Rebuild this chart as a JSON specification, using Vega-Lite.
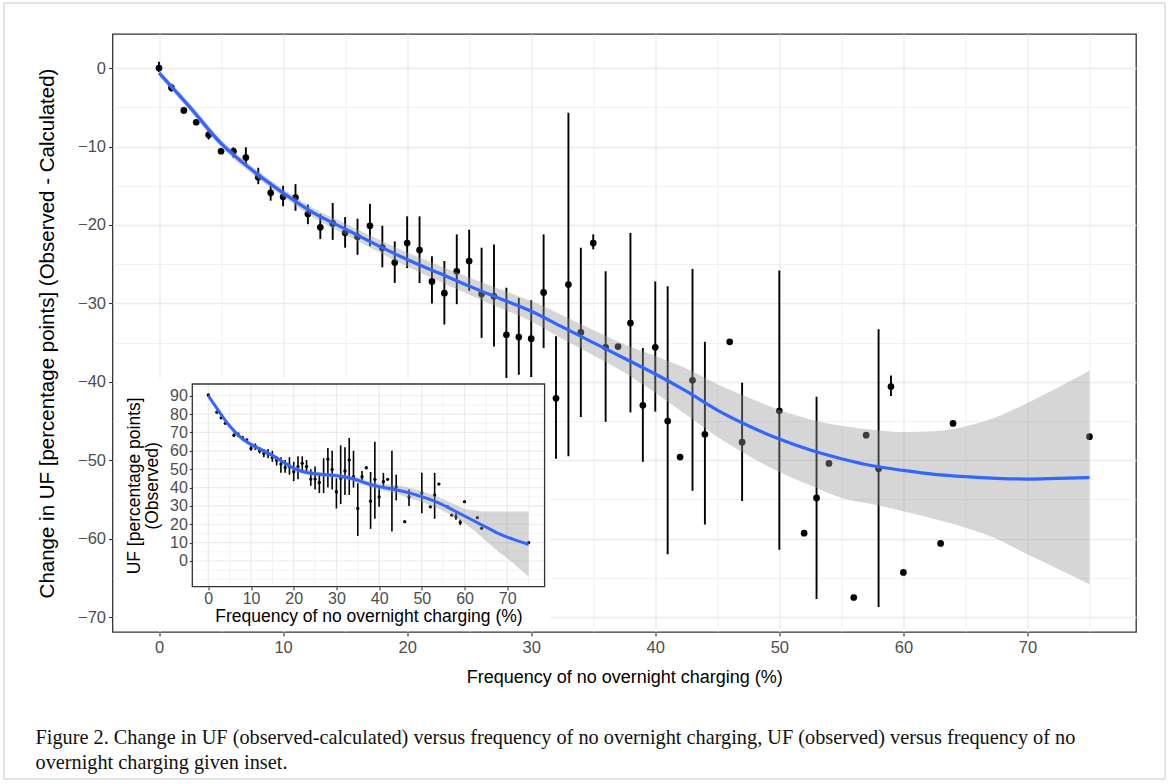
{
  "$schema": "https://vega.github.io/schema/vega-lite/v6.json",
  "width": 1023.5,
  "height": 598,
  "autosize": "none",
  "padding": {"left": 112.5, "top": 34, "right": 35, "bottom": 152},
  "background": "white",
  "title": {
    "text": ["Figure 2. Change in UF (observed-calculated) versus frequency of no overnight charging, UF (observed) versus frequency of no", "overnight charging given inset."],
    "orient": "bottom", "anchor": "start", "frame": "group", "dx": -77, "offset": -51,
    "font": "Liberation Serif", "fontSize": 20.3, "fontWeight": "normal", "color": "#111111", "lineHeight": 25
  },
  "config": {
    "view": {"stroke": "#333333", "strokeWidth": 1.3},
    "axis": {"labelFont": "Liberation Sans", "titleFont": "Liberation Sans", "labelColor": "#4d4d4d", "titleColor": "#000000", "tickColor": "#333333", "domain": false, "titleFontWeight": "normal", "labelOverlap": false, "labelFlush": false}
  },
  "datasets": {
    "main": [
      {"x": 0, "y": 0.0, "lo": -0.5, "hi": 0.8},
      {"x": 1, "y": -2.5, "lo": -3.0, "hi": -2.0},
      {"x": 2, "y": -5.4, "lo": -5.8, "hi": -5.0},
      {"x": 3, "y": -6.9, "lo": null, "hi": null},
      {"x": 4, "y": -8.5, "lo": -9.1, "hi": -7.7},
      {"x": 5, "y": -10.6, "lo": null, "hi": null},
      {"x": 6, "y": -10.6, "lo": -11.4, "hi": -10.1},
      {"x": 7, "y": -11.4, "lo": -12.5, "hi": -10.1},
      {"x": 8, "y": -13.9, "lo": -14.8, "hi": -12.7},
      {"x": 9, "y": -15.9, "lo": -16.9, "hi": -14.6},
      {"x": 10, "y": -16.4, "lo": -17.6, "hi": -15.0},
      {"x": 11, "y": -16.5, "lo": -18.2, "hi": -14.8},
      {"x": 12, "y": -18.6, "lo": -19.9, "hi": -17.4},
      {"x": 13, "y": -20.3, "lo": -21.8, "hi": -18.6},
      {"x": 14, "y": -19.8, "lo": -21.9, "hi": -17.2},
      {"x": 15, "y": -21.0, "lo": -22.9, "hi": -19.0},
      {"x": 16, "y": -21.5, "lo": -23.8, "hi": -19.2},
      {"x": 17, "y": -20.1, "lo": -22.7, "hi": -17.3},
      {"x": 18, "y": -22.9, "lo": -25.4, "hi": -20.1},
      {"x": 19, "y": -24.8, "lo": -27.4, "hi": -22.1},
      {"x": 20, "y": -22.3, "lo": -25.5, "hi": -18.9},
      {"x": 21, "y": -23.2, "lo": -27.4, "hi": -18.9},
      {"x": 22, "y": -27.2, "lo": -30.0, "hi": -24.0},
      {"x": 23, "y": -28.7, "lo": -32.7, "hi": -24.6},
      {"x": 24, "y": -25.9, "lo": -30.1, "hi": -21.2},
      {"x": 25, "y": -24.6, "lo": -28.4, "hi": -20.6},
      {"x": 26, "y": -28.8, "lo": -34.4, "hi": -22.9},
      {"x": 27, "y": -29.1, "lo": -35.5, "hi": -22.5},
      {"x": 28, "y": -34.0, "lo": -39.7, "hi": -28.0},
      {"x": 29, "y": -34.3, "lo": -39.1, "hi": -29.3},
      {"x": 30, "y": -34.5, "lo": -39.4, "hi": -29.6},
      {"x": 31, "y": -28.6, "lo": -35.7, "hi": -21.2},
      {"x": 32, "y": -42.1, "lo": -49.8, "hi": -34.2},
      {"x": 33, "y": -27.6, "lo": -49.5, "hi": -5.7},
      {"x": 34, "y": -33.7, "lo": -44.5, "hi": -22.9},
      {"x": 35, "y": -22.3, "lo": -23.1, "hi": -21.2},
      {"x": 36, "y": -35.6, "lo": -45.1, "hi": -25.9},
      {"x": 37, "y": -35.5, "lo": null, "hi": null},
      {"x": 38, "y": -32.5, "lo": -43.9, "hi": -21.0},
      {"x": 39, "y": -43.0, "lo": -50.2, "hi": -35.7},
      {"x": 40, "y": -35.6, "lo": -43.8, "hi": -27.2},
      {"x": 41, "y": -45.0, "lo": -62.0, "hi": -27.8},
      {"x": 42, "y": -49.6, "lo": null, "hi": null},
      {"x": 43, "y": -39.8, "lo": -53.9, "hi": -25.6},
      {"x": 44, "y": -46.7, "lo": -58.2, "hi": -34.9},
      {"x": 46, "y": -34.9, "lo": null, "hi": null},
      {"x": 47, "y": -47.7, "lo": -55.2, "hi": -40.1},
      {"x": 50, "y": -43.7, "lo": -61.4, "hi": -25.8},
      {"x": 52, "y": -59.3, "lo": null, "hi": null},
      {"x": 53, "y": -54.8, "lo": -67.7, "hi": -41.9},
      {"x": 54, "y": -50.4, "lo": null, "hi": null},
      {"x": 56, "y": -67.5, "lo": null, "hi": null},
      {"x": 57, "y": -46.8, "lo": null, "hi": null},
      {"x": 58, "y": -51.1, "lo": -68.7, "hi": -33.3},
      {"x": 59, "y": -40.6, "lo": -41.8, "hi": -39.2},
      {"x": 60, "y": -64.3, "lo": null, "hi": null},
      {"x": 63, "y": -60.6, "lo": null, "hi": null},
      {"x": 64, "y": -45.3, "lo": null, "hi": null},
      {"x": 75, "y": -47.0, "lo": null, "hi": null}
    ],
    "mainfit": [
      {"x": 0, "fit": -0.6, "lo": -1.0, "hi": -0.2},
      {"x": 2.5, "fit": -5.0, "lo": -5.5, "hi": -4.5},
      {"x": 5, "fit": -9.6, "lo": -10.1, "hi": -9.1},
      {"x": 7.5, "fit": -13.0, "lo": -13.5, "hi": -12.5},
      {"x": 10, "fit": -15.9, "lo": -16.4, "hi": -15.4},
      {"x": 12.5, "fit": -18.5, "lo": -19.1, "hi": -17.9},
      {"x": 15, "fit": -20.5, "lo": -21.2, "hi": -19.8},
      {"x": 17.5, "fit": -22.5, "lo": -23.3, "hi": -21.7},
      {"x": 20, "fit": -24.4, "lo": -25.3, "hi": -23.5},
      {"x": 22.5, "fit": -26.1, "lo": -27.1, "hi": -25.1},
      {"x": 25, "fit": -27.8, "lo": -28.9, "hi": -26.7},
      {"x": 27.5, "fit": -29.4, "lo": -30.6, "hi": -28.2},
      {"x": 30, "fit": -31.0, "lo": -32.3, "hi": -29.7},
      {"x": 32.5, "fit": -33.0, "lo": -34.5, "hi": -31.5},
      {"x": 35, "fit": -35.0, "lo": -36.6, "hi": -33.4},
      {"x": 37.5, "fit": -37.0, "lo": -38.8, "hi": -35.2},
      {"x": 40, "fit": -39.0, "lo": -41.4, "hi": -36.7},
      {"x": 42.5, "fit": -41.2, "lo": -44.2, "hi": -38.3},
      {"x": 45, "fit": -43.6, "lo": -47.0, "hi": -40.3},
      {"x": 47.5, "fit": -45.6, "lo": -49.4, "hi": -42.0},
      {"x": 50, "fit": -47.3, "lo": -51.5, "hi": -43.6},
      {"x": 52.5, "fit": -48.7, "lo": -53.2, "hi": -44.8},
      {"x": 55, "fit": -49.8, "lo": -54.8, "hi": -45.6},
      {"x": 57.5, "fit": -50.7, "lo": -55.6, "hi": -46.1},
      {"x": 60, "fit": -51.3, "lo": -56.5, "hi": -46.4},
      {"x": 62.5, "fit": -51.8, "lo": -57.5, "hi": -46.3},
      {"x": 65, "fit": -52.1, "lo": -58.6, "hi": -45.7},
      {"x": 67.5, "fit": -52.3, "lo": -60.0, "hi": -44.5},
      {"x": 70, "fit": -52.4, "lo": -62.0, "hi": -42.7},
      {"x": 72.5, "fit": -52.3, "lo": -63.9, "hi": -40.7},
      {"x": 75, "fit": -52.2, "lo": -65.8, "hi": -38.6}
    ],
    "inset": [
      {"x": 0, "y": 90.4, "lo": null, "hi": null},
      {"x": 2, "y": 81.0, "lo": null, "hi": null},
      {"x": 3, "y": 78.0, "lo": null, "hi": null},
      {"x": 4, "y": 75.0, "lo": null, "hi": null},
      {"x": 6, "y": 68.5, "lo": 67.5, "hi": 69.5},
      {"x": 7, "y": 69.0, "lo": 67.5, "hi": 70.0},
      {"x": 8, "y": 67.3, "lo": null, "hi": null},
      {"x": 9, "y": 66.0, "lo": null, "hi": null},
      {"x": 10, "y": 61.3, "lo": 60.0, "hi": 64.0},
      {"x": 11, "y": 62.6, "lo": 60.5, "hi": 64.0},
      {"x": 12, "y": 60.1, "lo": 58.5, "hi": 62.0},
      {"x": 13, "y": 58.6, "lo": 56.5, "hi": 61.0},
      {"x": 14, "y": 58.3, "lo": 56.0, "hi": 61.0},
      {"x": 15, "y": 56.4, "lo": 54.0, "hi": 60.0},
      {"x": 16, "y": 54.9, "lo": 52.0, "hi": 57.0},
      {"x": 17, "y": 52.8, "lo": 48.0, "hi": 56.5},
      {"x": 18, "y": 50.9, "lo": 48.0, "hi": 55.0},
      {"x": 19, "y": 51.4, "lo": 47.0, "hi": 56.5},
      {"x": 20, "y": 48.6, "lo": 43.5, "hi": 54.0},
      {"x": 21, "y": 51.4, "lo": 44.5, "hi": 57.0},
      {"x": 22, "y": 53.2, "lo": 49.5, "hi": 57.0},
      {"x": 23, "y": 51.4, "lo": 47.5, "hi": 55.0},
      {"x": 24, "y": 44.6, "lo": 41.0, "hi": 50.0},
      {"x": 25, "y": 44.6, "lo": 39.0, "hi": 51.5},
      {"x": 26, "y": 42.8, "lo": 37.0, "hi": 48.0},
      {"x": 27, "y": 47.0, "lo": 37.0, "hi": 56.0},
      {"x": 28, "y": 55.4, "lo": 40.0, "hi": 61.5},
      {"x": 29, "y": 49.9, "lo": 39.0, "hi": 60.0},
      {"x": 30, "y": 37.7, "lo": 28.6, "hi": 45.0},
      {"x": 31, "y": 45.0, "lo": 31.0, "hi": 63.0},
      {"x": 32, "y": 49.0, "lo": 36.0, "hi": 62.0},
      {"x": 33, "y": 55.0, "lo": 36.0, "hi": 67.0},
      {"x": 34, "y": 45.9, "lo": 40.0, "hi": 60.0},
      {"x": 35, "y": 28.6, "lo": 13.6, "hi": 42.4},
      {"x": 36, "y": 45.9, "lo": 44.0, "hi": 49.0},
      {"x": 37, "y": 50.8, "lo": null, "hi": null},
      {"x": 38, "y": 32.6, "lo": 17.5, "hi": 48.5},
      {"x": 39, "y": 44.5, "lo": 23.0, "hi": 65.0},
      {"x": 40, "y": 34.9, "lo": 29.5, "hi": 40.5},
      {"x": 41, "y": 43.2, "lo": 40.5, "hi": 48.0},
      {"x": 42, "y": 44.5, "lo": null, "hi": null},
      {"x": 43, "y": 40.0, "lo": 16.0, "hi": 60.0},
      {"x": 44, "y": 40.4, "lo": 33.0, "hi": 47.0},
      {"x": 46, "y": 21.4, "lo": null, "hi": null},
      {"x": 47, "y": 34.9, "lo": 30.0, "hi": 39.0},
      {"x": 50, "y": 37.1, "lo": 26.0, "hi": 48.0},
      {"x": 52, "y": 29.5, "lo": null, "hi": null},
      {"x": 53, "y": 35.9, "lo": 23.0, "hi": 48.0},
      {"x": 54, "y": 41.9, "lo": null, "hi": null},
      {"x": 56, "y": 29.6, "lo": null, "hi": null},
      {"x": 57, "y": 25.0, "lo": null, "hi": null},
      {"x": 58, "y": 24.1, "lo": 22.5, "hi": 26.0},
      {"x": 59, "y": 21.0, "lo": 19.5, "hi": 22.5},
      {"x": 60, "y": 32.3, "lo": null, "hi": null},
      {"x": 63, "y": 23.6, "lo": null, "hi": null},
      {"x": 64, "y": 17.8, "lo": null, "hi": null},
      {"x": 75, "y": 10.0, "lo": null, "hi": null}
    ],
    "insetfit": [
      {"x": 0, "fit": 90.0, "lo": 88.8, "hi": 91.2},
      {"x": 2.5, "fit": 81.5, "lo": 80.3, "hi": 82.7},
      {"x": 5, "fit": 73.5, "lo": 72.3, "hi": 74.7},
      {"x": 7.5, "fit": 67.5, "lo": 66.3, "hi": 68.7},
      {"x": 10, "fit": 63.5, "lo": 62.3, "hi": 64.7},
      {"x": 12.5, "fit": 60.5, "lo": 59.3, "hi": 61.7},
      {"x": 15, "fit": 57.5, "lo": 56.3, "hi": 58.7},
      {"x": 17.5, "fit": 54.0, "lo": 52.8, "hi": 55.2},
      {"x": 20, "fit": 50.5, "lo": 49.3, "hi": 51.7},
      {"x": 22.5, "fit": 48.5, "lo": 47.3, "hi": 49.7},
      {"x": 25, "fit": 47.5, "lo": 46.3, "hi": 48.7},
      {"x": 27.5, "fit": 47.0, "lo": 45.8, "hi": 48.2},
      {"x": 30, "fit": 46.5, "lo": 45.2, "hi": 47.8},
      {"x": 32.5, "fit": 45.5, "lo": 44.1, "hi": 46.9},
      {"x": 35, "fit": 44.0, "lo": 42.5, "hi": 45.5},
      {"x": 37.5, "fit": 42.0, "lo": 40.4, "hi": 43.6},
      {"x": 40, "fit": 40.5, "lo": 38.7, "hi": 42.3},
      {"x": 42.5, "fit": 39.5, "lo": 37.4, "hi": 41.6},
      {"x": 45, "fit": 38.3, "lo": 35.8, "hi": 40.8},
      {"x": 47.5, "fit": 36.8, "lo": 34.0, "hi": 39.6},
      {"x": 50, "fit": 35.0, "lo": 32.0, "hi": 38.0},
      {"x": 52.5, "fit": 33.0, "lo": 29.9, "hi": 36.1},
      {"x": 55, "fit": 30.5, "lo": 27.2, "hi": 33.8},
      {"x": 57.5, "fit": 27.5, "lo": 24.0, "hi": 31.0},
      {"x": 60, "fit": 24.5, "lo": 20.5, "hi": 28.5},
      {"x": 62.5, "fit": 21.5, "lo": 16.0, "hi": 27.5},
      {"x": 65, "fit": 18.5, "lo": 11.0, "hi": 27.0},
      {"x": 67.5, "fit": 15.5, "lo": 6.0, "hi": 27.0},
      {"x": 70, "fit": 13.0, "lo": 1.5, "hi": 27.0},
      {"x": 72.5, "fit": 11.0, "lo": -3.5, "hi": 27.0},
      {"x": 75, "fit": 9.0, "lo": -8.5, "hi": 27.0}
    ],
    "igx": [{"g": 0}, {"g": 5}, {"g": 10}, {"g": 15}, {"g": 20}, {"g": 25}, {"g": 30}, {"g": 35}, {"g": 40}, {"g": 45}, {"g": 50}, {"g": 55}, {"g": 60}, {"g": 65}, {"g": 70}, {"g": 75}],
    "igy": [{"g": -10}, {"g": -5}, {"g": 0}, {"g": 5}, {"g": 10}, {"g": 15}, {"g": 20}, {"g": 25}, {"g": 30}, {"g": 35}, {"g": 40}, {"g": 45}, {"g": 50}, {"g": 55}, {"g": 60}, {"g": 65}, {"g": 70}, {"g": 75}, {"g": 80}, {"g": 85}, {"g": 90}, {"g": 95}]
  },
  "layer": [
    {
      "data": {"name": "main"},
      "transform": [{"filter": "datum.lo != null"}],
      "mark": {"type": "rule", "color": "#000000", "strokeWidth": 1.9},
      "encoding": {
        "x": {"field": "x", "type": "quantitative", "scale": {"domain": [-3.75, 78.75], "nice": false, "zero": false},
          "axis": {"orient": "bottom", "values": [0, 5, 10, 15, 20, 25, 30, 35, 40, 45, 50, 55, 60, 65, 70, 75],
            "labelExpr": "datum.value % 10 === 0 ? datum.label : ''",
            "grid": true, "gridColor": "#ebebeb",
            "gridWidth": {"condition": {"test": "datum.value % 10 === 0", "value": 1.3}, "value": 0.7},
            "tickOpacity": {"condition": {"test": "datum.value % 10 === 0", "value": 1}, "value": 0},
            "tickSize": 4, "tickWidth": 1.1, "labelFontSize": 16.5, "labelPadding": 3,
            "title": "Frequency of no overnight charging (%)", "titleFontSize": 18, "titlePadding": 13}},
        "y": {"field": "lo", "type": "quantitative", "scale": {"domain": [-71.9, 4.35], "nice": false, "zero": false},
          "axis": {"orient": "left", "values": [-70, -65, -60, -55, -50, -45, -40, -35, -30, -25, -20, -15, -10, -5, 0],
            "labelExpr": "datum.value % 10 === 0 ? datum.label : ''",
            "grid": true, "gridColor": "#ebebeb",
            "gridWidth": {"condition": {"test": "datum.value % 10 === 0", "value": 1.3}, "value": 0.7},
            "tickOpacity": {"condition": {"test": "datum.value % 10 === 0", "value": 1}, "value": 0},
            "tickSize": 4, "tickWidth": 1.1, "labelFontSize": 16.5, "labelPadding": 3,
            "title": "Change in UF [percentage points] (Observed - Calculated)", "titleFontSize": 20.5, "titlePadding": 20}},
        "y2": {"field": "hi"}
      }
    },
    {
      "data": {"values": [{}]},
      "mark": {"type": "rect", "filled": false, "stroke": "#c8c8c8", "strokeWidth": 1},
      "encoding": {
        "x": {"datum": -12.5, "type": "quantitative", "scale": {"domain": [-3.75, 78.75], "nice": false, "zero": false}, "axis": null},
        "x2": {"datum": 81.09},
        "y": {"datum": -90.64, "type": "quantitative", "scale": {"domain": [-71.9, 4.35], "nice": false, "zero": false}, "axis": null},
        "y2": {"datum": 8.3}
      }
    },
    {
      "data": {"name": "main"},
      "mark": {"type": "circle", "color": "#000000", "opacity": 1, "size": 45},
      "encoding": {
        "x": {"field": "x", "type": "quantitative", "scale": {"domain": [-3.75, 78.75], "nice": false, "zero": false}, "axis": null},
        "y": {"field": "y", "type": "quantitative", "scale": {"domain": [-71.9, 4.35], "nice": false, "zero": false}, "axis": null}
      }
    },
    {
      "data": {"name": "mainfit"},
      "mark": {"type": "area", "color": "#999999", "opacity": 0.4, "interpolate": "monotone"},
      "encoding": {
        "x": {"field": "x", "type": "quantitative", "scale": {"domain": [-3.75, 78.75], "nice": false, "zero": false}, "axis": null},
        "y": {"field": "lo", "type": "quantitative", "scale": {"domain": [-71.9, 4.35], "nice": false, "zero": false}, "axis": null},
        "y2": {"field": "hi"}
      }
    },
    {
      "data": {"name": "mainfit"},
      "mark": {"type": "line", "color": "#3366ff", "strokeWidth": 3.2, "interpolate": "monotone"},
      "encoding": {
        "x": {"field": "x", "type": "quantitative", "scale": {"domain": [-3.75, 78.75], "nice": false, "zero": false}, "axis": null},
        "y": {"field": "fit", "type": "quantitative", "scale": {"domain": [-71.9, 4.35], "nice": false, "zero": false}, "axis": null}
      }
    },
    {
      "data": {"values": [{}]},
      "mark": {"type": "rect", "fill": "white", "stroke": null},
      "encoding": {
        "x": {"datum": -21, "type": "quantitative", "scale": {"domain": [-3.75, 78.75], "range": [79.8, 432.1], "nice": false, "zero": false},
          "axis": {"orient": "bottom", "offset": -45.3, "zindex": 1, "grid": false, "values": [0, 10, 20, 30, 40, 50, 60, 70],
            "tickSize": 3, "tickWidth": 1.1, "labelFontSize": 16, "labelPadding": 1,
            "title": "Frequency of no overnight charging (%)", "titleFontSize": 17.5, "titlePadding": 1}},
        "x2": {"datum": 80.0},
        "y": {"datum": -37, "type": "quantitative", "scale": {"domain": [-14, 96.4], "range": [552.7, 350], "nice": false, "zero": false},
          "axis": {"orient": "left", "offset": -79.8, "zindex": 1, "grid": false, "values": [0, 10, 20, 30, 40, 50, 60, 70, 80, 90],
            "tickSize": 3, "tickWidth": 1.1, "labelFontSize": 16, "labelPadding": 2,
            "title": ["UF [percentage points]", "(Observed)"], "titleFontSize": 17.5, "titlePadding": 8, "titleLineHeight": 18}},
        "y2": {"datum": 99.6}
      }
    },
    {
      "data": {"name": "igx"},
      "mark": {"type": "rule", "color": "#ebebeb"},
      "encoding": {
        "x": {"field": "g", "type": "quantitative", "scale": {"domain": [-3.75, 78.75], "range": [79.8, 432.1], "nice": false, "zero": false}, "axis": null},
        "y": {"datum": -14, "type": "quantitative", "scale": {"domain": [-14, 96.4], "range": [552.7, 350], "nice": false, "zero": false}, "axis": null},
        "y2": {"datum": 96.4},
        "strokeWidth": {"condition": {"test": "datum.g % 10 === 0", "value": 1.2}, "value": 0.6}
      }
    },
    {
      "data": {"name": "igy"},
      "mark": {"type": "rule", "color": "#ebebeb"},
      "encoding": {
        "y": {"field": "g", "type": "quantitative", "scale": {"domain": [-14, 96.4], "range": [552.7, 350], "nice": false, "zero": false}, "axis": null},
        "x": {"datum": -3.75, "type": "quantitative", "scale": {"domain": [-3.75, 78.75], "range": [79.8, 432.1], "nice": false, "zero": false}, "axis": null},
        "x2": {"datum": 78.75},
        "strokeWidth": {"condition": {"test": "datum.g % 10 === 0 && datum.g >= 0", "value": 1.2}, "value": 0.6}
      }
    },
    {
      "data": {"name": "inset"},
      "transform": [{"filter": "datum.lo != null"}],
      "mark": {"type": "rule", "color": "#000000", "strokeWidth": 1.6},
      "encoding": {
        "x": {"field": "x", "type": "quantitative", "scale": {"domain": [-3.75, 78.75], "range": [79.8, 432.1], "nice": false, "zero": false}, "axis": null},
        "y": {"field": "lo", "type": "quantitative", "scale": {"domain": [-14, 96.4], "range": [552.7, 350], "nice": false, "zero": false}, "axis": null},
        "y2": {"field": "hi"}
      }
    },
    {
      "data": {"name": "inset"},
      "mark": {"type": "circle", "color": "#000000", "opacity": 1, "size": 11},
      "encoding": {
        "x": {"field": "x", "type": "quantitative", "scale": {"domain": [-3.75, 78.75], "range": [79.8, 432.1], "nice": false, "zero": false}, "axis": null},
        "y": {"field": "y", "type": "quantitative", "scale": {"domain": [-14, 96.4], "range": [552.7, 350], "nice": false, "zero": false}, "axis": null}
      }
    },
    {
      "data": {"name": "insetfit"},
      "mark": {"type": "area", "color": "#999999", "opacity": 0.4, "interpolate": "monotone"},
      "encoding": {
        "x": {"field": "x", "type": "quantitative", "scale": {"domain": [-3.75, 78.75], "range": [79.8, 432.1], "nice": false, "zero": false}, "axis": null},
        "y": {"field": "lo", "type": "quantitative", "scale": {"domain": [-14, 96.4], "range": [552.7, 350], "nice": false, "zero": false}, "axis": null},
        "y2": {"field": "hi"}
      }
    },
    {
      "data": {"name": "insetfit"},
      "mark": {"type": "line", "color": "#3366ff", "strokeWidth": 3, "interpolate": "monotone"},
      "encoding": {
        "x": {"field": "x", "type": "quantitative", "scale": {"domain": [-3.75, 78.75], "range": [79.8, 432.1], "nice": false, "zero": false}, "axis": null},
        "y": {"field": "fit", "type": "quantitative", "scale": {"domain": [-14, 96.4], "range": [552.7, 350], "nice": false, "zero": false}, "axis": null}
      }
    },
    {
      "data": {"values": [{}]},
      "mark": {"type": "rect", "filled": false, "stroke": "#333333", "strokeWidth": 1.3},
      "encoding": {
        "x": {"datum": -3.75, "type": "quantitative", "scale": {"domain": [-3.75, 78.75], "range": [79.8, 432.1], "nice": false, "zero": false}, "axis": null},
        "x2": {"datum": 78.75},
        "y": {"datum": -14, "type": "quantitative", "scale": {"domain": [-14, 96.4], "range": [552.7, 350], "nice": false, "zero": false}, "axis": null},
        "y2": {"datum": 96.4}
      }
    }
  ],
  "resolve": {"scale": {"x": "independent", "y": "independent"}, "axis": {"x": "independent", "y": "independent"}}
}
